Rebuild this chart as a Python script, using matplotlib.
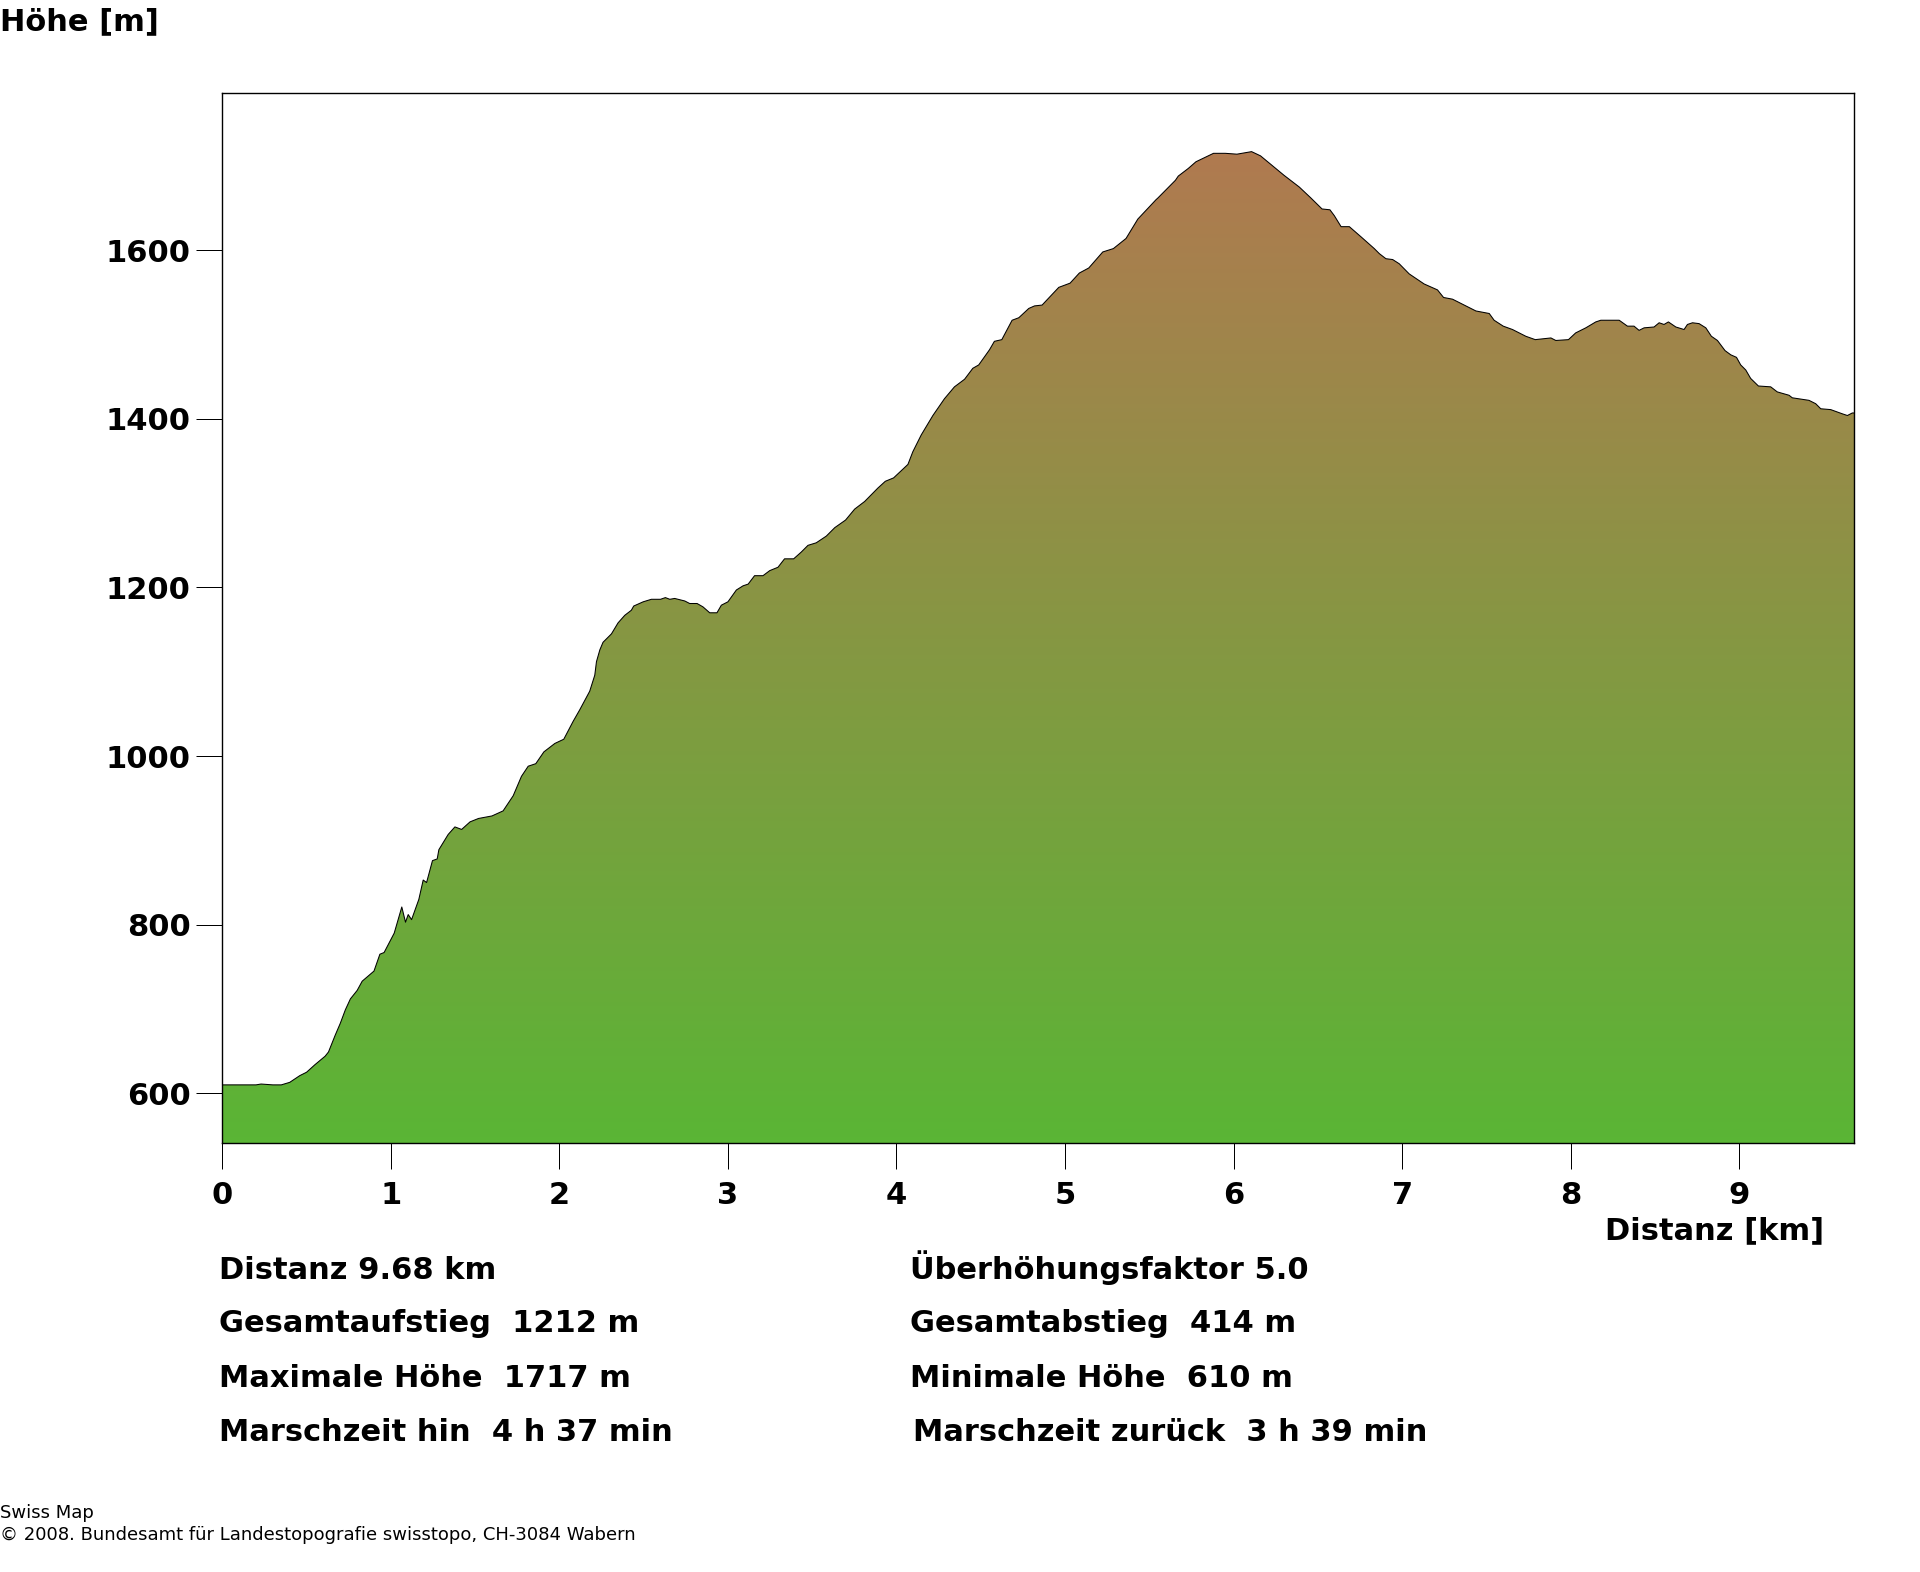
# -*- coding: utf-8 -*-
import numpy as np
import matplotlib
matplotlib.use("Agg")
import matplotlib.pyplot as plt
from matplotlib.colors import LinearSegmentedColormap

W, H = 1920, 1572

DIST_KM = [0.00, 0.20, 0.23, 0.30, 0.35, 0.40, 0.46, 0.50, 0.55, 0.61, 0.63, 0.67, 0.70, 0.73, 0.76,
           0.80, 0.83, 0.90, 0.935, 0.96, 1.02, 1.065, 1.087, 1.103, 1.123, 1.166, 1.192, 1.212, 1.247,
           1.275, 1.285, 1.34, 1.38, 1.42, 1.47, 1.52, 1.60, 1.666, 1.726, 1.775, 1.815, 1.86, 1.908,
           1.973, 2.026, 2.081, 2.121, 2.18, 2.21, 2.22, 2.24, 2.259, 2.309, 2.348, 2.388, 2.427, 2.441,
           2.497, 2.546, 2.60, 2.629, 2.655, 2.684, 2.744, 2.773, 2.817, 2.852, 2.892, 2.935, 2.961,
           3.00, 3.05, 3.09, 3.12, 3.158, 3.208, 3.248, 3.297, 3.336, 3.39, 3.435, 3.475, 3.524, 3.584,
           3.634, 3.698, 3.752, 3.811, 3.89, 3.934, 3.983, 4.068, 4.097, 4.147, 4.216, 4.285, 4.344,
           4.404, 4.453, 4.488, 4.552, 4.581, 4.625, 4.686, 4.726, 4.785, 4.819, 4.864, 4.963, 5.03,
           5.085, 5.141, 5.224, 5.287, 5.362, 5.432, 5.54, 5.551, 5.655, 5.672, 5.731, 5.777, 5.881,
           5.951, 6.02, 6.107, 6.16, 6.299, 6.39, 6.459, 6.525, 6.572, 6.598, 6.638, 6.687, 6.756, 6.835,
           6.865, 6.904, 6.944, 6.983, 7.042, 7.131, 7.21, 7.246, 7.299, 7.359, 7.438, 7.517, 7.546, 7.60,
           7.655, 7.734, 7.79, 7.883, 7.912, 7.987, 8.03, 8.09, 8.149, 8.179, 8.248, 8.288, 8.337, 8.376,
           8.406, 8.436, 8.495, 8.525, 8.554, 8.58, 8.624, 8.673, 8.693, 8.723, 8.762, 8.802, 8.835, 8.871,
           8.916, 8.95, 8.984, 9.009, 9.039, 9.068, 9.114, 9.187, 9.226, 9.296, 9.315, 9.414, 9.454, 9.484,
           9.543, 9.612, 9.642, 9.671, 9.683]
HOEHE_M = [610, 610, 611, 610, 610, 613, 621, 625, 634, 644, 649, 669, 683, 699, 712,
           722, 733, 745, 765, 767, 790, 821, 803, 812, 806, 830, 853, 850, 876,
           878, 889, 907, 916, 913, 922, 926, 929, 935, 953, 976, 988, 991, 1005,
           1015, 1020, 1041, 1055, 1077, 1096, 1112, 1126, 1135, 1145, 1158, 1167, 1173, 1178,
           1183, 1186, 1186, 1188, 1186, 1187, 1184, 1181, 1181, 1177, 1170, 1170, 1179,
           1183, 1197, 1202, 1204, 1214, 1214, 1220, 1224, 1234, 1234, 1242, 1250, 1253, 1261,
           1271, 1280, 1293, 1302, 1318, 1326, 1330, 1346, 1361, 1381, 1404, 1424, 1438,
           1447, 1460, 1464, 1482, 1492, 1494, 1517, 1520, 1531, 1534, 1535, 1556, 1561,
           1573, 1579, 1598, 1602, 1614, 1637, 1660, 1662, 1683, 1688, 1697, 1705, 1715,
           1715, 1714, 1717, 1712, 1689, 1675, 1662, 1649, 1648, 1641, 1628, 1628, 1616, 1602,
           1596, 1590, 1589, 1584, 1572, 1560, 1553, 1544, 1542, 1536, 1528, 1525, 1517, 1510,
           1506, 1498, 1494, 1496, 1493, 1494, 1502, 1508, 1515, 1517, 1517, 1517, 1510, 1510,
           1505, 1508, 1509, 1514, 1512, 1515, 1509, 1506, 1512, 1514, 1513, 1508, 1498, 1493,
           1481, 1476, 1473, 1464, 1458, 1448, 1439, 1438, 1432, 1428, 1425, 1422, 1418, 1412,
           1411, 1406, 1404, 1407, 1407]

X_TICKS = [0, 1, 2, 3, 4, 5, 6, 7, 8, 9]
Y_TICKS = [600, 800, 1000, 1200, 1400, 1600]
X_MAX = 9.683
Y_MIN, Y_MAX = 540.7, 1786.2

INFO_LEFT = ["Distanz 9.68 km", "Gesamtaufstieg  1212 m", "Maximale Höhe  1717 m", "Marschzeit hin  4 h 37 min"]
INFO_RIGHT = ["Überhöhungsfaktor 5.0", "Gesamtabstieg  414 m", "Minimale Höhe  610 m", "Marschzeit zurück  3 h 39 min"]

BOLD_FONT = "DejaVu Sans"
BOLD_PT = 22
SMALL_PT = 13


def fig_text(fig, px, py, s, **kw):
    # Position in Pixeln des Originals (y von oben)
    fig.text(px / W, 1 - py / H, s, va="baseline", **kw)


fig = plt.figure(figsize=(W / 100, H / 100), dpi=100, facecolor="white")
ax = fig.add_axes([222.3 / W, 1 - 1143.3 / H, (1854.3 - 222.3) / W, (1143.3 - 93.3) / H])

# Höhenverlauf mit Farbverlauf gruen -> braun
cmap = LinearSegmentedColormap.from_list("hoehe", ["#5ab535", "#b07a50"])
grad = np.linspace(0, 1, 256).reshape(-1, 1)
im = ax.imshow(grad, cmap=cmap, origin="lower", aspect="auto", interpolation="bilinear",
               extent=(0, X_MAX, Y_MIN, max(HOEHE_M)), zorder=1)
poly = ax.fill_between(DIST_KM, HOEHE_M, Y_MIN, facecolor="none", edgecolor="none")
im.set_clip_path(poly.get_paths()[0], transform=ax.transData)
ax.plot(DIST_KM, HOEHE_M, color="black", lw=0.75, zorder=2)

ax.set_xlim(0, X_MAX)
ax.set_ylim(Y_MIN, Y_MAX)
ax.set_xticks(X_TICKS)
ax.set_yticks(Y_TICKS)
ax.tick_params(axis="x", length=18.7, width=0.72, pad=8.7, labelsize=BOLD_PT)
ax.tick_params(axis="y", length=18.7, width=0.72, pad=4, labelsize=BOLD_PT)
for lab in ax.get_xticklabels() + ax.get_yticklabels():
    lab.set_fontfamily(BOLD_FONT)
    lab.set_fontweight("bold")
for sp in ax.spines.values():
    sp.set_linewidth(1.0)
    sp.set_zorder(3)

bold = dict(family=BOLD_FONT, fontweight="bold", fontsize=BOLD_PT, color="black")
fig_text(fig, 0, 30.5, "Höhe [m]", **bold)
fig_text(fig, 1824, 1239.5, "Distanz [km]", ha="right", **bold)

for s, py in zip(INFO_LEFT, [1279, 1332.3, 1386.7, 1440.7]):
    fig_text(fig, 219, py, s, **bold)
for s, py, px in zip(INFO_RIGHT, [1279, 1332.3, 1386.7, 1440.7], [909.5, 909.5, 909.5, 913]):
    fig_text(fig, px, py, s, **bold)

small = dict(family="DejaVu Sans", fontsize=SMALL_PT, color="black")
fig_text(fig, 0, 1518.3, "Swiss Map", **small)
fig_text(fig, 0, 1540, "© 2008. Bundesamt für Landestopografie swisstopo, CH-3084 Wabern", **small)

fig.savefig("out.png", dpi=100)
